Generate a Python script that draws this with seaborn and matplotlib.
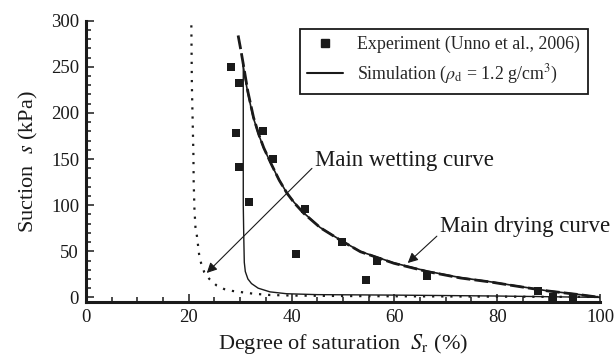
import numpy as np
import pandas as pd
import matplotlib
matplotlib.use("Agg")
import matplotlib.pyplot as plt
import seaborn as sns
from matplotlib.ticker import MultipleLocator
from matplotlib.lines import Line2D

# ---- data ----
exp_sr = [28.3, 29.8, 29.1, 29.8, 31.7, 34.4, 36.4, 42.6, 40.8, 49.9, 54.4, 56.6, 66.3, 87.9, 90.9, 94.7]
exp_s = [250, 233, 178, 141, 103, 180, 150, 96, 47, 60, 19, 39.5, 23, 6.5, 0.3, 0.0]

dry_sr = [30.5, 31.4, 32.5, 33.5, 34.5, 36.0, 37.5, 39.0, 40.5, 42.3, 45.5, 49.4, 53.3, 59.8,
          66.3, 72.8, 78.6, 83.1, 89.6, 96.1, 100]
dry_s = [254, 224, 196, 178, 163, 145, 128, 114, 103, 92, 76, 62.5, 50, 37.5,
         28.5, 21.5, 17, 13, 7.3, 3, 0]

dash_sr = [29.6, 30.1, 30.6, 31.5, 32.6, 33.6, 34.6, 36.1, 37.6, 39.1, 40.6, 42.4, 45.6, 49.5,
           53.4, 59.9, 66.4, 72.9, 78.7, 83.2, 89.7, 96.1, 100]
dash_s = [284, 269, 253, 223, 195, 177, 162, 144, 127, 113, 102, 91, 75.5, 62,
          49.5, 37, 28, 21, 16.7, 12.7, 7.1, 2.9, 0]

wet_sr = [30.6, 30.6, 30.6, 30.6, 30.7, 30.8, 31.0, 31.5, 32.2, 33.5, 35.8, 39.0, 45.0, 60.0, 80.0, 100]
wet_s = [254, 200, 150, 100, 65, 38, 28, 20, 15, 10, 6, 4, 3, 2.5, 1.5, 0]

dot_sr = [20.5, 20.6, 20.8, 20.9, 20.95, 21.1, 21.3, 21.6, 22.0, 22.4, 23.0, 24.0, 25.4, 26.9, 28.5, 30.5, 32.6, 35.8, 40, 50, 60, 80, 100]
dot_s = [295, 230, 180, 155, 126, 96, 76, 66, 47, 37, 27.5, 20, 13, 9, 7, 5.5, 4, 2.6, 2, 1.5, 1.2, 0.8, 0.5]

xticks = [0, 20, 40, 60, 80, 100]
yticks = [0, 50, 100, 150, 200, 250, 300]

sns.set_theme(style="ticks")
plt.rcParams["font.family"] = ["Liberation Serif", "DejaVu Serif"]
plt.rcParams["mathtext.fontset"] = "stix"

fig = plt.figure(figsize=(6.15, 3.62), dpi=100)
ax = fig.add_axes([0.1398, 0.1657, 0.8358, 0.7771])

sns.lineplot(x=dot_sr, y=dot_s, sort=False, estimator=None, ax=ax, color="k",
             lw=1.6, linestyle=(0, (1, 3.1)))
sns.lineplot(x=wet_sr, y=wet_s, sort=False, estimator=None, ax=ax, color="k", lw=1.0)
sns.lineplot(x=dash_sr, y=dash_s, sort=False, estimator=None, ax=ax, color="k",
             lw=2.0, linestyle=(0, (5, 1.5)))
sns.lineplot(x=dry_sr, y=dry_s, sort=False, estimator=None, ax=ax, color="k", lw=1.2)
sns.scatterplot(x=exp_sr, y=exp_s, ax=ax, marker="s", s=32, color="#1a1a1a", linewidth=0, zorder=5)

ax.set_xlim(0, 100)
ax.set_ylim(-5, 300)
ax.set_xticks(xticks)
ax.set_yticks(yticks)
ax.xaxis.set_minor_locator(MultipleLocator(5))
ax.yaxis.set_minor_locator(MultipleLocator(10))
ax.tick_params(which="both", direction="in", width=1.1, colors="k", labelsize=13.5, pad=5)
ax.tick_params(which="major", length=6)
ax.tick_params(which="minor", length=3.5)
sns.despine(ax=ax)
for sp in ["left", "bottom"]:
    ax.spines[sp].set_linewidth(2.2)
    ax.spines[sp].set_color("k")

ax.set_xlabel(r"Degree of saturation  $S_{\mathrm{r}}$ (%)", fontsize=16, color="k", labelpad=4)
ax.set_ylabel(r"Suction  $s$ (kPa)", fontsize=16, color="k", labelpad=8)

handles = [
    Line2D([], [], marker="s", ls="none", color="#1a1a1a", markersize=6),
    Line2D([], [], color="k", lw=1.5),
]
labels = ["Experiment (Unno et al., 2006)",
          r"Simulation ($\rho_{\mathrm{d}}$ = 1.2 g/cm$^3$)"]
leg = ax.legend(handles, labels, loc="upper right", bbox_to_anchor=(0.976, 0.972),
                borderaxespad=0, fontsize=12.9, frameon=True, fancybox=False,
                framealpha=1, edgecolor="k", handlelength=2.0, handletextpad=0.8,
                labelspacing=0.55, borderpad=0.42)
leg.get_frame().set_linewidth(1.3)

ax.annotate("Main wetting curve", xy=(23.5, 26.5), xytext=(44.6, 148),
            fontsize=16.5, ha="left", va="center", color="k",
            arrowprops=dict(arrowstyle="-|>", color="k", lw=0.8, mutation_scale=15,
                            shrinkA=0, shrinkB=0, relpos=(0, 0.3)))
ax.annotate("Main drying curve", xy=(62.6, 37.3), xytext=(68.9, 76.5),
            fontsize=16.5, ha="left", va="center", color="k",
            arrowprops=dict(arrowstyle="-|>", color="k", lw=0.8, mutation_scale=15,
                            shrinkA=0, shrinkB=0, relpos=(0, 0.2)))

fig.savefig("out.png", dpi=100)
